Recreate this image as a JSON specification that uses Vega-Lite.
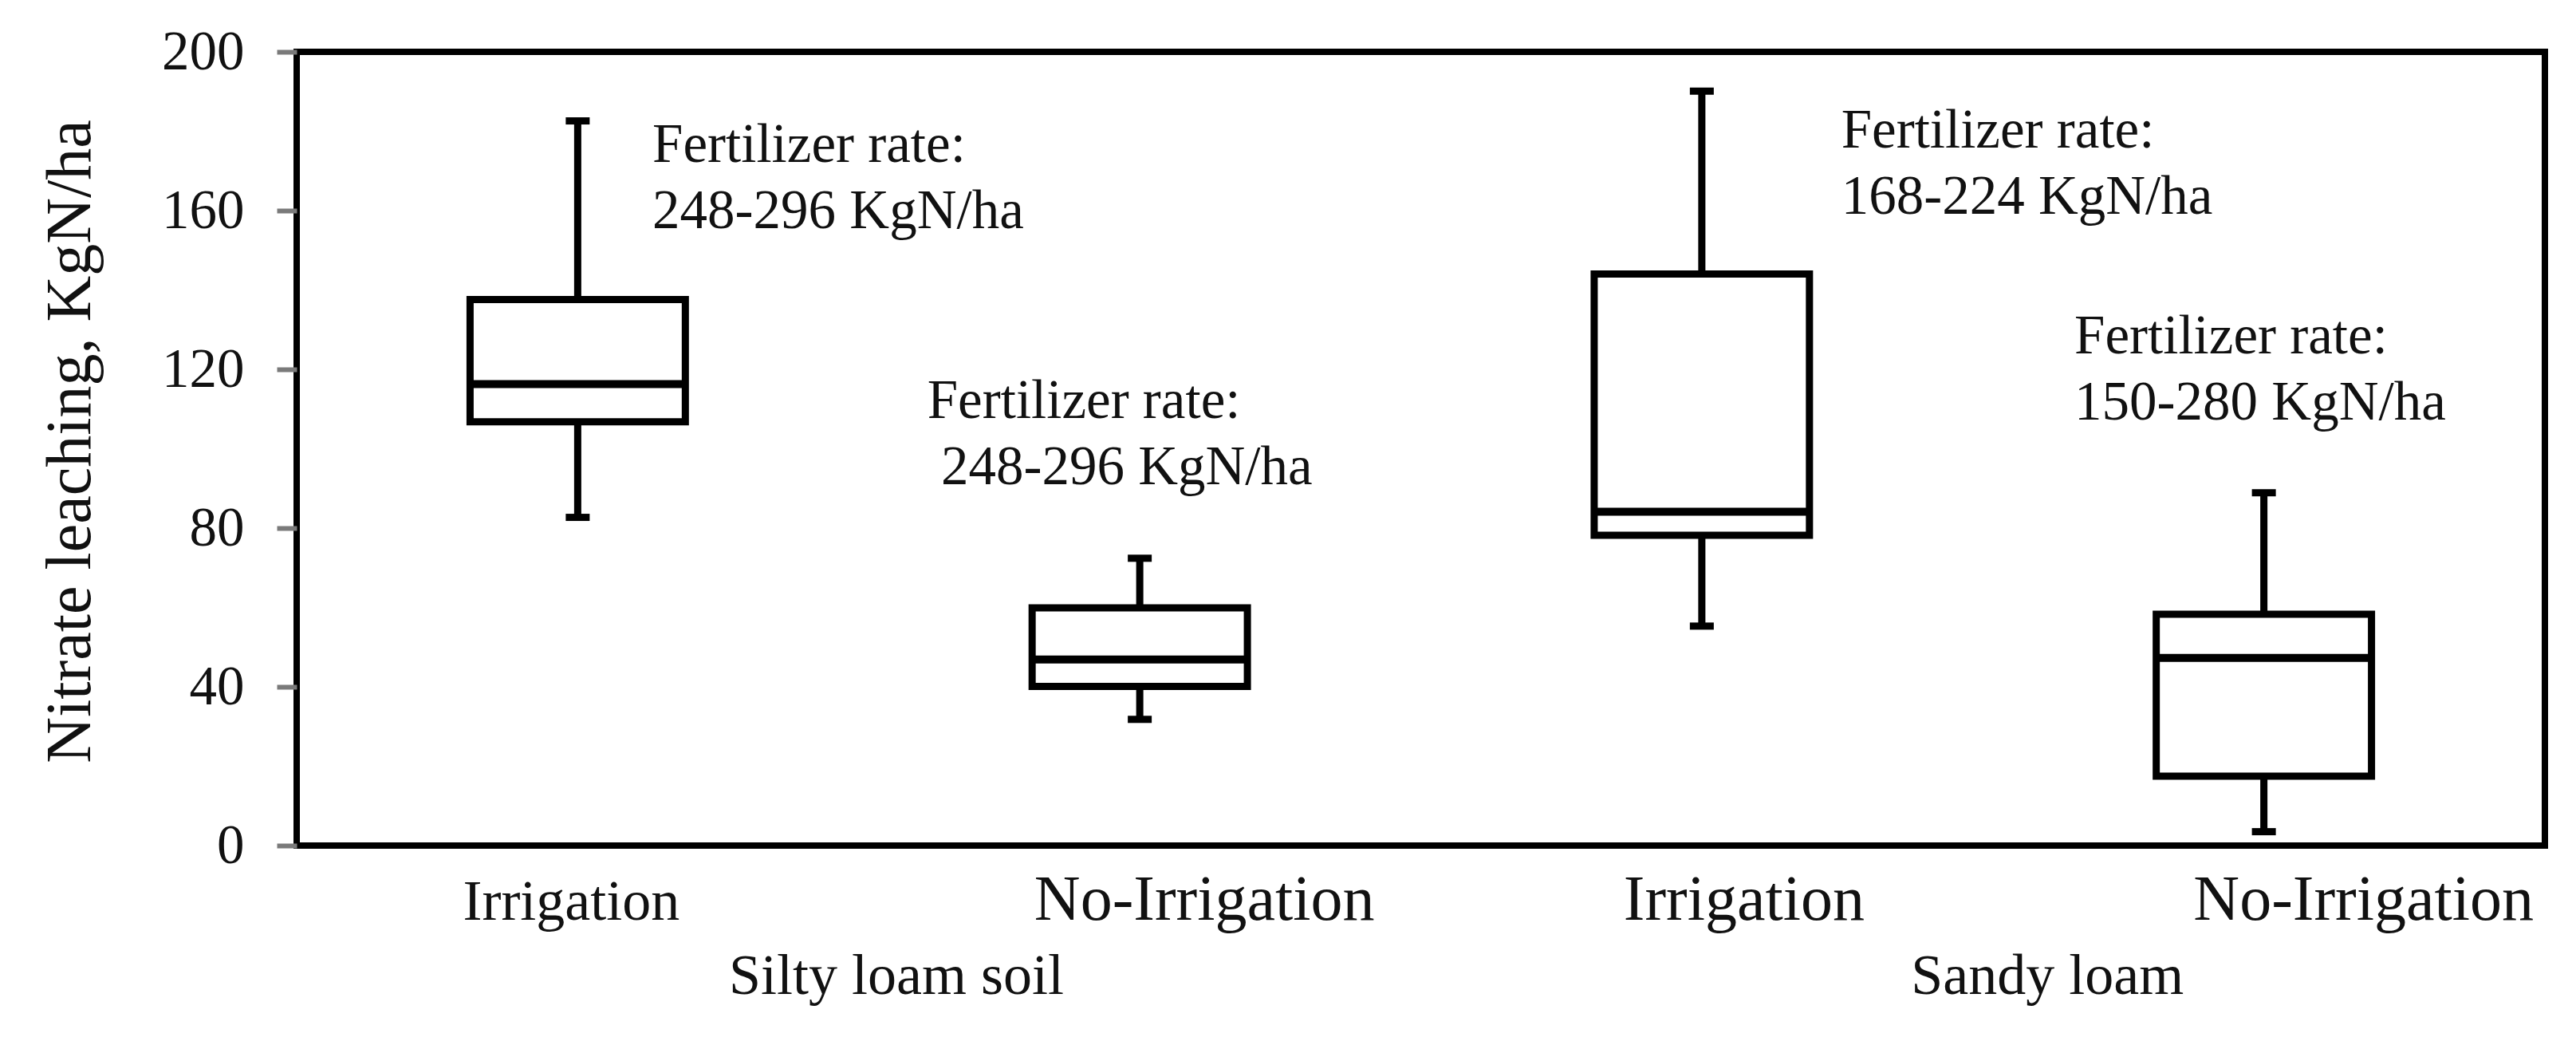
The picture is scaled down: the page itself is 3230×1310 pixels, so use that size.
{
  "$schema": "https://vega.github.io/schema/vega-lite/v6.json",
  "width": 2819,
  "height": 995,
  "autosize": "none",
  "padding": {"left": 372, "top": 65, "right": 39, "bottom": 250},
  "background": "white",
  "config": {
    "view": {"stroke": "black", "strokeWidth": 8},
    "font": "Liberation Serif",
    "text": {"font": "Liberation Serif"}
  },
  "datasets": {
    "boxes": [
      {"group": "Silty loam soil|Irrigation", "lower": 82.7, "q1": 106.8, "median": 116.3, "q3": 137.6, "upper": 182.6},
      {"group": "Silty loam soil|No-Irrigation", "lower": 31.8, "q1": 40.1, "median": 46.9, "q3": 59.9, "upper": 72.4},
      {"group": "Sandy loam|Irrigation", "lower": 55.3, "q1": 78.2, "median": 84.1, "q3": 144.0, "upper": 190.1},
      {"group": "Sandy loam|No-Irrigation", "lower": 3.5, "q1": 17.5, "median": 47.3, "q3": 58.3, "upper": 88.9}
    ],
    "notes": [
      {"pos": 0.633, "val": 172.3, "note": "Fertilizer rate:\n248-296 KgN/ha"},
      {"pos": 1.122, "val": 107.8, "note": "Fertilizer rate:\n\u200b 248-296 KgN/ha"},
      {"pos": 2.748, "val": 175.9, "note": "Fertilizer rate:\n168-224 KgN/ha"},
      {"pos": 3.163, "val": 124.1, "note": "Fertilizer rate:\n150-280 KgN/ha"}
    ],
    "soils": [
      {"pos": 1.067, "soil": "Silty loam soil"},
      {"pos": 3.115, "soil": "Sandy loam"}
    ]
  },
  "layer": [
    {
      "data": {"name": "boxes"},
      "encoding": {
        "x": {
          "field": "group",
          "type": "nominal",
          "sort": null,
          "scale": {"paddingInner": 0.617, "paddingOuter": 0.3085},
          "axis": {
            "title": null,
            "domain": false,
            "ticks": false,
            "grid": false,
            "labelAngle": 0,
            "labelOverlap": false,
            "labelLimit": 0,
            "labelExpr": "split(datum.value, '|')[1]",
            "labelFont": "Liberation Serif",
            "labelColor": "#111111",
            "labelFontSize": {"condition": {"test": "datum.value === 'Silty loam soil|Irrigation'", "value": 72}, "value": 80},
            "labelOffset": {
              "condition": [
                {"test": "datum.value === 'Silty loam soil|Irrigation'", "value": -8},
                {"test": "datum.value === 'Silty loam soil|No-Irrigation'", "value": 81},
                {"test": "datum.value === 'Sandy loam|Irrigation'", "value": 53}
              ],
              "value": 125
            },
            "labelPadding": 92,
            "labelBaseline": "alphabetic"
          }
        }
      },
      "layer": [
        {
          "mark": {"type": "rule", "color": "black", "strokeWidth": 9},
          "encoding": {
            "y": {
              "field": "lower",
              "type": "quantitative",
              "scale": {"domain": [0, 200], "nice": false, "zero": true},
              "axis": {
                "values": [0, 40, 80, 120, 160, 200],
                "domain": false,
                "grid": false,
                "ticks": true,
                "tickSize": 25,
                "tickWidth": 6,
                "tickColor": "#7a7a7a",
                "labelFont": "Liberation Serif",
                "labelFontSize": 69,
                "labelPadding": 41,
                "labelColor": "#111111",
                "title": "Nitrate leaching, KgN/ha",
                "titleFont": "Liberation Serif",
                "titleFontSize": 80,
                "titleFontWeight": "normal",
                "titleColor": "#111111",
                "titleX": -260,
                "titleY": 488,
                "titleBaseline": "alphabetic"
              }
            },
            "y2": {"field": "upper"}
          }
        },
        {
          "mark": {"type": "tick", "color": "black", "size": 30, "thickness": 9, "opacity": 1},
          "encoding": {"y": {"field": "lower", "type": "quantitative", "title": "Nitrate leaching, KgN/ha"}}
        },
        {
          "mark": {"type": "tick", "color": "black", "size": 30, "thickness": 9, "opacity": 1},
          "encoding": {"y": {"field": "upper", "type": "quantitative", "title": "Nitrate leaching, KgN/ha"}}
        },
        {
          "mark": {"type": "bar", "fill": "white", "stroke": "black", "strokeWidth": 9, "opacity": 1},
          "encoding": {
            "y": {"field": "q1", "type": "quantitative", "title": "Nitrate leaching, KgN/ha"},
            "y2": {"field": "q3"}
          }
        },
        {
          "mark": {"type": "tick", "color": "black", "size": 270, "thickness": 10, "opacity": 1},
          "encoding": {"y": {"field": "median", "type": "quantitative", "title": "Nitrate leaching, KgN/ha"}}
        }
      ]
    },
    {
      "data": {"name": "notes"},
      "mark": {"type": "text", "align": "left", "baseline": "alphabetic", "fontSize": 69, "lineHeight": 83.5, "lineBreak": "\n", "color": "#111111", "font": "Liberation Serif"},
      "encoding": {
        "x": {"field": "pos", "type": "quantitative", "scale": {"domain": [0, 4], "nice": false, "zero": false}, "axis": null},
        "y": {"field": "val", "type": "quantitative", "title": "Nitrate leaching, KgN/ha"},
        "text": {"field": "note"}
      }
    },
    {
      "data": {"name": "soils"},
      "mark": {"type": "text", "align": "center", "baseline": "alphabetic", "fontSize": 72, "color": "#111111", "font": "Liberation Serif", "y": {"expr": "height + 186"}},
      "encoding": {
        "x": {"field": "pos", "type": "quantitative", "scale": {"domain": [0, 4], "nice": false, "zero": false}, "axis": null},
        "text": {"field": "soil"}
      }
    }
  ],
  "resolve": {"scale": {"x": "independent"}}
}
